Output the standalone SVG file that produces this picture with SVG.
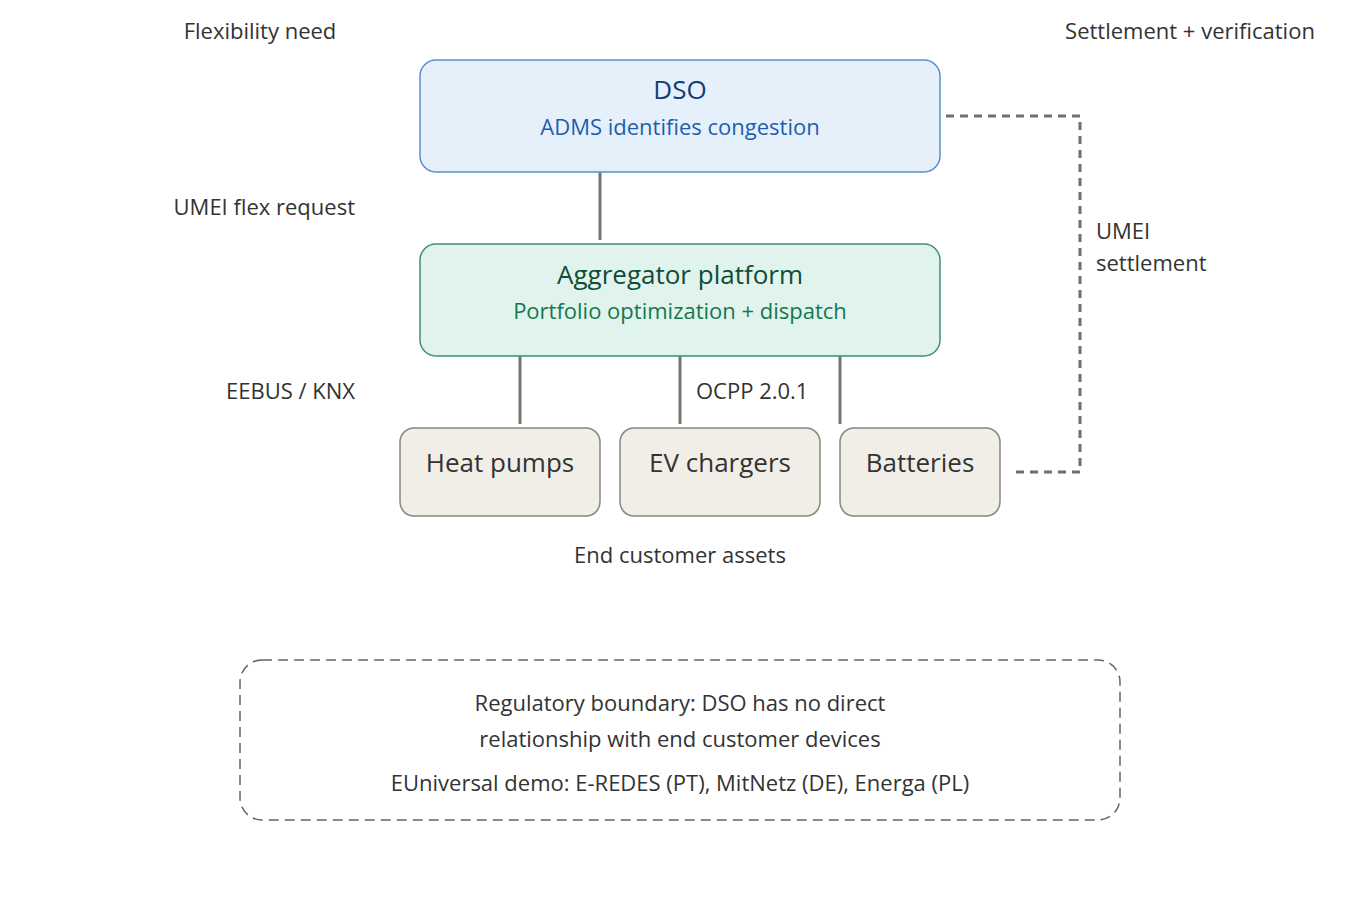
<svg xmlns="http://www.w3.org/2000/svg" width="1360" height="920" viewBox="0 0 1360 920">
<style>
text{font-family:"Open Sans","Noto Sans",sans-serif;fill:#333;text-anchor:middle}
.l{font-size:22px}
.t{text-anchor:start}
.e{text-anchor:end}
.c{stroke:#77776f;stroke-width:3;fill:none}
.d{stroke:#707070;stroke-width:3;fill:none;stroke-dasharray:8 6}
.a{fill:#f1eee8;stroke:#888680;stroke-width:1.5}
</style>
<rect width="1360" height="920" fill="#fff"/>
<text class="l" x="260" y="39">Flexibility need</text>
<text class="l" x="1190" y="39">Settlement + verification</text>
<text class="l e" x="355" y="215">UMEI flex request</text>
<text class="l e" x="355" y="399">EEBUS / KNX</text>
<text class="l t" x="696" y="399">OCPP 2.0.1</text>
<text class="l t" x="1096" y="239">UMEI</text>
<text class="l t" x="1096" y="271">settlement</text>
<text class="l" x="680" y="563">End customer assets</text>
<g id="connectors">
<line class="c" x1="600" y1="172" x2="600" y2="240"/>
<line class="c" x1="520" y1="356" x2="520" y2="424"/>
<line class="c" x1="680" y1="356" x2="680" y2="424"/>
<line class="c" x1="840" y1="356" x2="840" y2="424"/>
<path class="d" d="M946 116H1080V472H1016"/>
</g>
<g id="dso">
<rect x="420" y="60" width="520" height="112" rx="16" fill="#e6f0fb" stroke="#5a8ed0" stroke-width="1.5"/>
<text x="680" y="99" font-size="26" style="fill:#123d73">DSO</text>
<text class="l" x="680" y="135" style="fill:#1b5fae">ADMS identifies congestion</text>
</g>
<g id="aggregator">
<rect x="420" y="244" width="520" height="112" rx="16" fill="#e0f3ec" stroke="#3f8f70" stroke-width="1.5"/>
<text x="680" y="284" font-size="26" style="fill:#0f4d35">Aggregator platform</text>
<text class="l" x="680" y="319" style="fill:#16784f">Portfolio optimization + dispatch</text>
</g>
<g id="heat"><rect class="a" x="400" y="428" width="200" height="88" rx="14"/><text x="500" y="472" font-size="26">Heat pumps</text></g>
<g id="ev"><rect class="a" x="620" y="428" width="200" height="88" rx="14"/><text x="720" y="472" font-size="26">EV chargers</text></g>
<g id="bat"><rect class="a" x="840" y="428" width="160" height="88" rx="14"/><text x="920" y="472" font-size="26">Batteries</text></g>
<g id="boundary">
<rect x="240" y="660" width="880" height="160" rx="22" fill="none" stroke="#666" stroke-width="1.5" stroke-dasharray="10 6"/>
<text class="l" x="680" y="711">Regulatory boundary: DSO has no direct</text>
<text class="l" x="680" y="747">relationship with end customer devices</text>
<text class="l" x="680" y="791">EUniversal demo: E-REDES (PT), MitNetz (DE), Energa (PL)</text>
</g>
</svg>
